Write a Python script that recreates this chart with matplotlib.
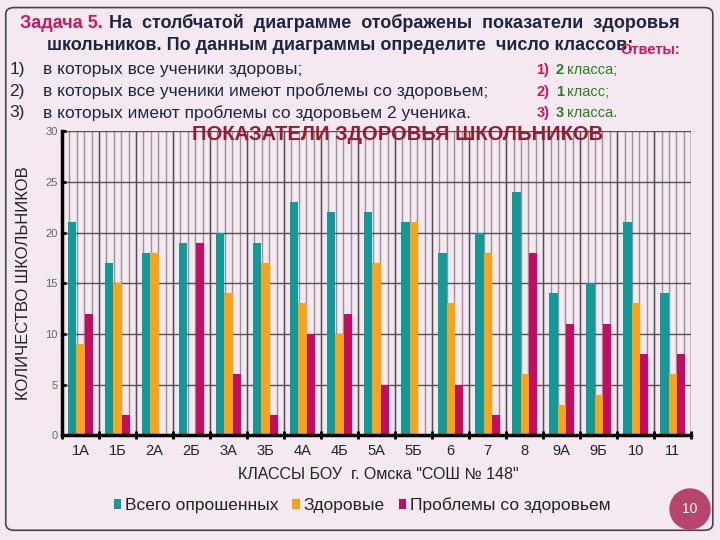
import numpy as np
import matplotlib.pyplot as plt
from matplotlib.patches import FancyBboxPatch, Circle

plt.rcParams['font.family'] = ['Liberation Sans', 'DejaVu Sans']

# Данные диаграммы
classes = ['1А', '1Б', '2А', '2Б', '3А', '3Б', '4А', '4Б', '5А', '5Б',
           '6', '7', '8', '9А', '9Б', '10', '11']
total = [21, 17, 18, 19, 20, 19, 23, 22, 22, 21, 18, 20, 24, 14, 15, 21, 14]
healthy = [9, 15, 18, 0, 14, 17, 13, 10, 17, 21, 13, 18, 6, 3, 4, 13, 6]
problems = [12, 2, 0, 19, 6, 2, 10, 12, 5, 0, 5, 2, 18, 11, 11, 8, 8]
series_names = ['Всего опрошенных', 'Здоровые', 'Проблемы со здоровьем']
colors = ['#12999a', '#f9a21b', '#c70a62']

bg = '#f4e9f0'
navy = '#1d2640'
crimson = '#d0165c'
green = '#2f7d1e'

fig = plt.figure(figsize=(7.2, 5.4), dpi=100, facecolor=bg)
renderer = fig.canvas.get_renderer()

# рамка слайда
frame = FancyBboxPatch((0.008, 0.018), 0.982, 0.968, boxstyle='round,pad=0,rounding_size=0.012',
                       transform=fig.transFigure, facecolor=bg, edgecolor='#444444', lw=1.2,
                       zorder=-5)
fig.patches.append(frame)

# Текст задания
t1 = fig.text(0.028, 0.957, 'Задача 5.', color=crimson, fontsize=13, fontweight='bold', va='center')
x_end = t1.get_window_extent(renderer).x1 / 720
fig.text(x_end + 0.008, 0.957, 'На  столбчатой  диаграмме  отображены  показатели  здоровья',
         color=navy, fontsize=13, fontweight='bold', va='center')
fig.text(0.065, 0.915, 'школьников. По данным диаграммы определите  число классов:',
         color=navy, fontsize=13, fontweight='bold', va='center', ha='left')
items = ['в которых все ученики здоровы;',
         'в которых все ученики имеют проблемы со здоровьем;',
         'в которых имеют проблемы со здоровьем 2 ученика.']
for i, t in enumerate(items):
    y = 0.871 - i * 0.04
    fig.text(0.013, y, f'{i + 1})', color=navy, fontsize=12.5, va='center')
    fig.text(0.06, y, t, color=navy, fontsize=12.5, va='center')

fig.text(0.862, 0.907, 'Ответы:', color=crimson, fontsize=10.5, fontweight='bold', va='center')
answers = [('1)', '2', 'класса;'), ('2)', '1', 'класс;'), ('3)', '3', 'класса.')]
for i, (a, b, c) in enumerate(answers):
    y = 0.870 - i * 0.04
    fig.text(0.745, y, a, color=crimson, fontsize=10.5, fontweight='bold', va='center')
    fig.text(0.772, y, b, color=green, fontsize=10.5, fontweight='bold', va='center')
    fig.text(0.788, y, c, color=green, fontsize=10.5, va='center')

# Диаграмма
ax = fig.add_axes([0.086, 0.194, 0.874, 0.563])
ax.set_facecolor('none')
x = np.arange(len(classes))
w = 0.22
for k, vals in enumerate([total, healthy, problems]):
    ax.bar(x + (k - 1) * w, vals, w, color=colors[k], label=series_names[k], zorder=3)

ax.set_xlim(-0.5, len(classes) - 0.5)
ax.set_ylim(0, 30)
ax.set_yticks(range(0, 31, 5))
ax.set_xticks(x)
ax.set_xticklabels(classes, fontsize=10.5, color='#222222')
ax.tick_params(axis='x', length=0, pad=6)
ax.tick_params(axis='y', labelsize=8, labelcolor='#666666', length=3, width=2, direction='in', pad=3)

# сетка
for xv in np.arange(-0.5, len(classes) - 0.4, 0.2):
    ax.axvline(xv, color='#9a9296', lw=1, zorder=1)
for xv in np.arange(-0.5, len(classes), 1.0):
    ax.axvline(xv, color='#555055', lw=1, zorder=1)
    ax.plot([xv], [0], marker='|', color='black', ms=6, mew=2, clip_on=False, zorder=4)
for yv in range(5, 31, 5):
    ax.axhline(yv, color='#555055', lw=1, zorder=1)

for s in ['top', 'right']:
    ax.spines[s].set_visible(False)
ax.spines['left'].set_linewidth(2.5)
ax.spines['bottom'].set_linewidth(2.5)
ax.spines['left'].set_zorder(5)
ax.spines['bottom'].set_zorder(5)

ax.text(0.534, 0.99, 'ПОКАЗАТЕЛИ ЗДОРОВЬЯ ШКОЛЬНИКОВ', transform=ax.transAxes,
        ha='center', va='center', color='#9c1a2e', fontsize=14.5, fontweight='bold', zorder=6)

ax.set_ylabel('КОЛИЧЕСТВО ШКОЛЬНИКОВ', fontsize=12, color='#222222', labelpad=10)
ax.set_xlabel('КЛАССЫ БОУ  г. Омска "СОШ № 148"', fontsize=11.5, color='#222222', labelpad=8)
ax.xaxis.set_label_coords(0.502, -0.105)

ax.legend(loc='center', bbox_to_anchor=(0.477, -0.23), ncol=3, frameon=False,
          fontsize=12.5, handlelength=0.45, handleheight=0.45, handletextpad=0.2,
          columnspacing=0.8, labelcolor='#222222')

# номер слайда
fig.patches.append(Circle((690, 31), 20, transform=None, color='#b8446d', zorder=2))
fig.text(690 / 720, 31 / 540, '10', color='white', fontsize=10, ha='center', va='center')

fig.savefig('out.png', dpi=100, facecolor=bg)
